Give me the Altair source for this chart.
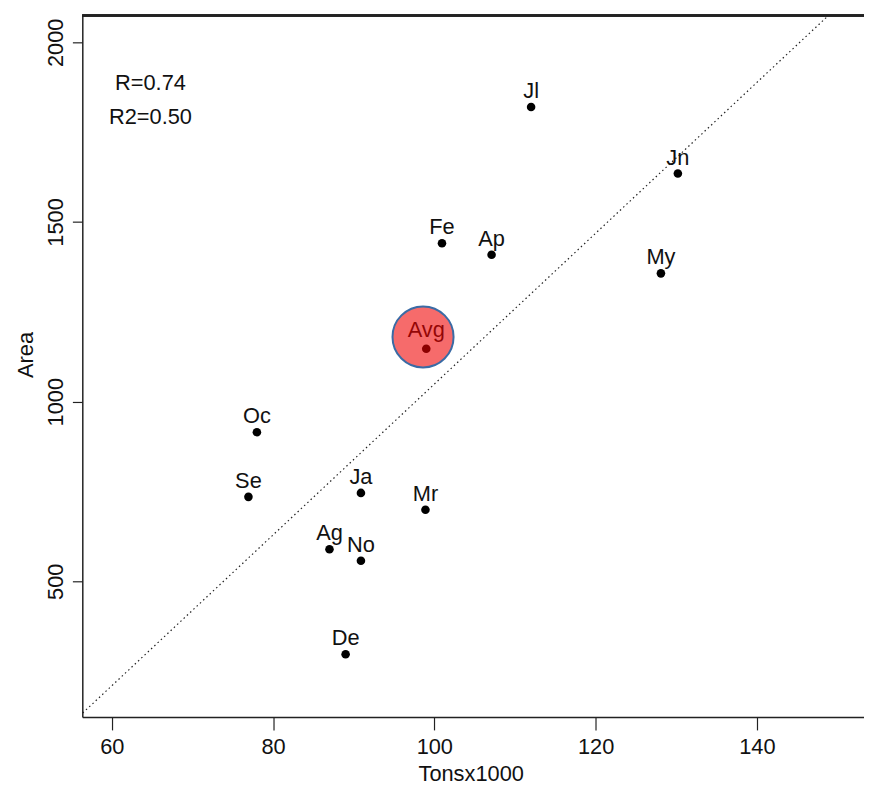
import altair as alt
import pandas as pd

# ---- data ----
months = ["Jl", "Jn", "Fe", "Ap", "My", "Oc", "Se", "Ja", "Mr", "Ag", "No", "De"]
tons = [112.0, 130.2, 100.95, 107.1, 128.1, 78.0, 76.95, 90.9, 98.9, 87.0, 90.9, 89.0]
area = [1820, 1635, 1441, 1409, 1357, 915, 735, 746, 699, 589, 557, 297]

avg_label = ["Avg"]
avg_tons = [99.0]
avg_area = [1147]
avg_circle_tons = [98.6]
avg_circle_area = [1180]

diag_tons = [56.4, 148.86]
diag_area = [133.6, 2074.4]

stats_text = ["R=0.74", "R2=0.50"]
stats_tons = [64.8, 64.8]
stats_area = [1868, 1772]

x_ticks = [60, 80, 100, 120, 140]
y_ticks = [500, 1000, 1500, 2000]
x_domain = [56.35, 153.28]
y_domain = [122.3, 2074.4]

W, H = 789, 708
FONT = "Liberation Sans"
FS = 22
INK = "#111111"

pts = pd.DataFrame({"month": months, "tons": tons, "area": area})
avg = pd.DataFrame({"month": avg_label, "tons": avg_tons, "area": avg_area})
avgc = pd.DataFrame({"tons": avg_circle_tons, "area": avg_circle_area})
diag = pd.DataFrame({"tons": diag_tons, "area": diag_area})
stats = pd.DataFrame({"txt": stats_text, "tons": stats_tons, "area": stats_area})

xaxis = alt.Axis(values=x_ticks, grid=False, title="Tonsx1000", tickSize=13, format="d",
                 tickColor="#222", tickWidth=1.2, domainColor="#222", domainWidth=1.5,
                 labelFont=FONT, labelFontSize=FS, labelColor=INK, labelBaseline="alphabetic",
                 labelPadding=24, labelFlush=False, labelOverlap=False,
                 titleFont=FONT, titleFontSize=FS, titleColor=INK, titleFontWeight="normal",
                 titleBaseline="alphabetic", titleY=64, titleX=392, titleAlign="center")
yaxis = alt.Axis(values=y_ticks, grid=False, title="Area", tickSize=10, format="d",
                 tickColor="#222", tickWidth=1.2, domainColor="#222", domainWidth=1.5,
                 labelFont=FONT, labelFontSize=FS, labelColor=INK, labelAngle=270,
                 labelAlign="center", labelBaseline="alphabetic", labelPadding=10,
                 labelFlush=False, labelOverlap=False,
                 titleFont=FONT, titleFontSize=FS, titleColor=INK, titleFontWeight="normal",
                 titleAngle=270, titleAlign="center", titleBaseline="alphabetic",
                 titleX=-50, titleY=342)

X = alt.X("tons:Q", scale=alt.Scale(domain=x_domain, nice=False, zero=False), axis=xaxis)
Y = alt.Y("area:Q", scale=alt.Scale(domain=y_domain, nice=False, zero=False), axis=yaxis)

frame_top = alt.Chart(pts).mark_rule(color="#222", strokeWidth=1.5).encode(
    x=alt.value(0), x2=alt.value(W), y=alt.value(0))

diag_line = alt.Chart(diag).mark_line(color="#222", strokeWidth=1.2, strokeDash=[1.5, 3]).encode(
    x=X, y=Y)

dots = alt.Chart(pts).mark_point(filled=True, size=75, color="black", opacity=1).encode(x=X, y=Y)
labels = alt.Chart(pts).mark_text(font=FONT, fontSize=FS, color=INK, dy=-9,
                                  baseline="alphabetic", align="center").encode(
    x=X, y=Y, text="month:N")

avg_dot = alt.Chart(avg).mark_point(filled=True, size=75, color="black", opacity=1).encode(x=X, y=Y)
avg_text = alt.Chart(avg).mark_text(font=FONT, fontSize=FS, color=INK, dy=-11.5,
                                    baseline="alphabetic", align="center").encode(
    x=X, y=Y, text="month:N")
avg_circle = alt.Chart(avgc).mark_point(filled=False, shape="circle", size=3800, fill="#F00000",
                                        fillOpacity=0.58, stroke="#3A6BA5", strokeWidth=2,
                                        strokeOpacity=1, opacity=1).encode(x=X, y=Y)

stat_txt = alt.Chart(stats).mark_text(font=FONT, fontSize=FS, color=INK,
                                      baseline="alphabetic", align="center").encode(
    x=X, y=Y, text="txt:N")

chart = alt.layer(diag_line, dots, labels, avg_dot, avg_text, avg_circle, stat_txt, frame_top).properties(
    width=W, height=H,
    padding={"left": 75, "top": 4, "right": 0, "bottom": 70},
    autosize=alt.AutoSizeParams(type="none"),
    background="white",
).configure_view(stroke=None)

chart.save("out.html", embed_options={"renderer": "svg", "actions": False})
